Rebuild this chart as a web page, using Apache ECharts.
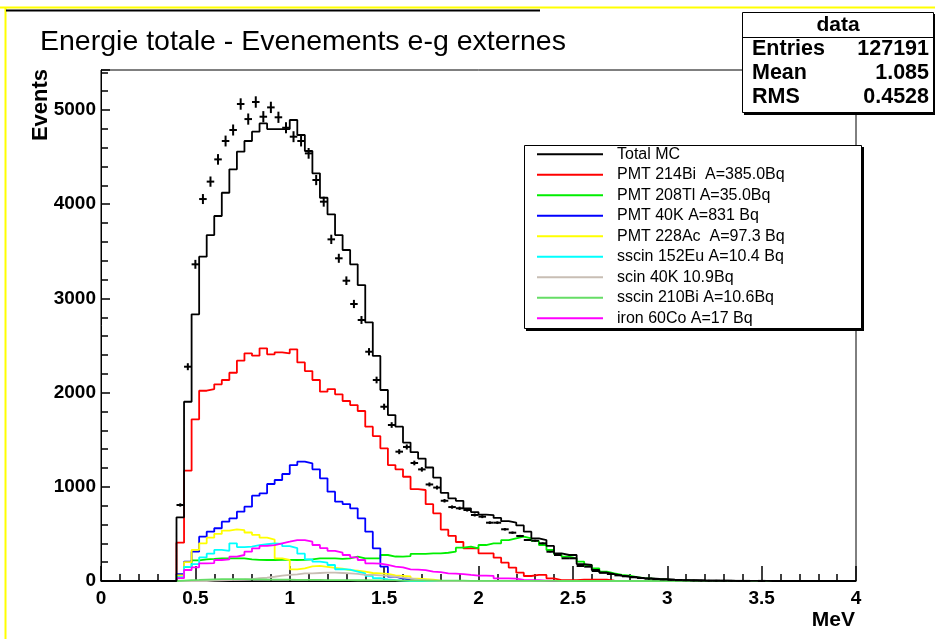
<!DOCTYPE html>
<html><head><meta charset="utf-8">
<script src="https://cdn.jsdelivr.net/npm/echarts/dist/echarts.min.js"></script>
<style>html,body{margin:0;padding:0;background:#fff}#c{width:935px;height:639px}</style>
</head><body><div id="c"></div>
<script>
// ---- histogram definition: 100 bins from 0 to 4 MeV ----
const xMin = 0, xMax = 4, nBins = 100;
const xTicks = [0, 0.5, 1, 1.5, 2, 2.5, 3, 3.5, 4];
const yTicks = [0, 1000, 2000, 3000, 4000, 5000];
const yMax = 5425;

// data (crosses), counts per bin
const dataCounts = [
 0,0,0,0,0,0,0,0,0,0,
 807,2275,3362,4055,4240,4476,4671,4788,5064,4904,
 5085,4929,5028,4923,4812,4717,4671,4540,4257,4027,
 3627,3426,3188,2941,2771,2434,2134,1850,1656,1373,
 1423,1253,1185,1025,992,852,785,772,754,701,
 683,619,619,549,513,478,435,428,400,311,
 276,241,241,159,152,106,88,74,60,50,
 40,32,25,20,16,12,9,7,5,4,
 3,3,2,2,1,1,0,1,0,0,
 0,0,0,0,0,0,0,0,0,0];

const totalMC = [
 0,0,0,0,0,0,0,0,0,0,
 676,1903,2831,3443,3673,3875,4122,4370,4558,4671,
 4770,4858,4798,4798,4798,4894,4735,4565,4328,4069,
 3893,3673,3514,3362,3142,2746,2389,2028,1762,1638,
 1470,1368,1300,1205,1098,936,878,851,772,732,
 705,700,670,635,620,590,524,453,435,372,
 294,276,276,180,170,117,88,74,58,46,
 40,28,28,22,20,15,11,10,8,6,
 5,4,3,2,2,1,1,1,0,0,
 0,0,0,0,0,0,0,0,0,0];

const pmt214Bi = [
 0,0,0,0,0,0,0,0,0,0,
 407,1171,1716,2020,2038,2088,2134,2211,2339,2417,
 2392,2470,2406,2428,2417,2460,2321,2229,2134,2010,
 2038,1982,1911,1868,1805,1638,1539,1409,1231,1186,
 1107,975,966,816,718,545,480,414,347,347,
 294,294,248,195,142,88,53,64,64,28,
 10,10,10,15,15,15,15,5,0,0,
 0,0,0,0,0,0,0,0,0,0,
 0,0,0,0,0,0,0,0,0,0,
 0,0,0,0,0,0,0,0,0,0];

const pmt208Tl = [
 0,0,0,0,0,0,0,0,0,0,
 60,150,220,230,235,241,241,241,241,230,
 225,223,223,225,225,223,225,230,241,241,
 241,235,241,258,241,241,241,276,260,258,
 265,287,287,294,294,300,311,354,364,347,
 382,400,400,435,453,471,453,425,382,329,
 283,258,241,205,170,135,99,81,64,57,
 40,30,25,20,15,10,5,3,0,0,
 0,0,0,0,0,0,0,0,0,0,
 0,0,0,0,0,0,0,0,0,0];

const pmt40K = [
 0,0,0,0,0,0,0,0,0,0,
 74,205,311,471,524,560,630,665,736,789,
 906,931,1030,1072,1136,1231,1267,1249,1186,1090,
 948,842,817,772,665,524,347,152,46,25,
 15,8,4,0,0,0,0,0,0,0,
 0,0,0,0,0,0,0,0,0,0,
 0,0,0,0,0,0,0,0,0,0,
 0,0,0,0,0,0,0,0,0,0,
 0,0,0,0,0,0,0,0,0,0,
 0,0,0,0,0,0,0,0,0,0];

const pmt228Ac = [
 0,0,0,0,0,0,0,0,0,0,
 60,200,330,400,460,500,535,549,540,515,
 490,460,440,240,223,124,135,155,160,150,
 140,130,115,110,100,85,80,75,60,55,
 50,25,20,15,5,0,0,0,0,0,
 0,0,0,0,0,0,0,0,0,0,
 0,0,0,0,0,0,0,0,0,0,
 0,0,0,0,0,0,0,0,0,0,
 0,0,0,0,0,0,0,0,0,0,
 0,0,0,0,0,0,0,0,0,0];

const sscin152Eu = [
 0,0,0,0,0,0,0,0,0,0,
 40,150,180,250,290,330,320,400,360,365,
 380,390,400,395,370,350,290,230,205,195,
 170,125,120,100,80,55,30,18,10,5,
 0,0,0,0,0,0,0,0,0,0,
 0,0,0,0,0,0,0,0,0,0,
 0,0,0,0,0,0,0,0,0,0,
 0,0,0,0,0,0,0,0,0,0,
 0,0,0,0,0,0,0,0,0,0,
 0,0,0,0,0,0,0,0,0,0];

const scin40K = [
 0,0,0,0,0,0,0,0,0,0,
 0,0,0,0,5,8,10,12,15,20,
 30,35,45,57,65,71,80,81,85,88,
 88,85,81,75,64,64,60,55,46,35,
 28,15,8,4,0,0,0,0,0,0,
 0,0,0,0,0,0,0,0,0,0,
 0,0,0,0,0,0,0,0,0,0,
 0,0,0,0,0,0,0,0,0,0,
 0,0,0,0,0,0,0,0,0,0,
 0,0,0,0,0,0,0,0,0,0];

const sscin210Bi = [
 0,0,0,0,0,0,0,0,0,0,
 5,10,12,15,18,20,20,20,20,18,
 18,16,15,15,14,13,12,12,11,10,
 10,9,9,8,8,7,7,6,6,5,
 5,5,4,4,4,3,3,3,2,2,
 2,2,2,1,1,1,1,1,1,1,
 0,0,0,0,0,0,0,0,0,0,
 0,0,0,0,0,0,0,0,0,0,
 0,0,0,0,0,0,0,0,0,0,
 0,0,0,0,0,0,0,0,0,0];

const iron60Co = [
 0,0,0,0,0,0,0,0,0,0,
 30,117,145,188,190,223,230,258,276,311,
 347,372,382,400,417,435,435,417,382,350,
 320,300,276,251,223,188,185,170,152,145,
 124,120,115,99,95,81,78,74,65,57,
 57,55,28,28,25,11,10,8,5,0,
 0,0,0,0,0,0,0,0,0,0,
 0,0,0,0,0,0,0,0,0,0,
 0,0,0,0,0,0,0,0,0,0,
 0,0,0,0,0,0,0,0,0,0];

const legendNames = ['Total MC','PMT 214Bi  A=385.0Bq','PMT 208Tl A=35.0Bq','PMT 40K A=831 Bq',
  'PMT 228Ac  A=97.3 Bq','sscin 152Eu A=10.4 Bq','scin 40K 10.9Bq','sscin 210Bi A=10.6Bq','iron 60Co A=17 Bq'];
const statsRows = [['Entries','127191'],['Mean','1.085'],['RMS','0.4528']];

// ---- build ----
const binW = (xMax - xMin) / nBins;
function histPoints(vals){
  const pts = [];
  for (let k = 0; k < vals.length; k++) pts.push([xMin + k*binW, vals[k]]);
  pts.push([xMax, vals[vals.length-1]]);
  return pts;
}
function hist(name, vals, color, z){
  return {name, type:'line', step:'end', data:histPoints(vals), showSymbol:false, symbol:'none',
    color, lineStyle:{color, width:1.8}, z:z||2, silent:true, animation:false};
}
const crossData = dataCounts.map((v,k)=>[xMin + (k+0.5)*binW, v]);

const FONT = '"Liberation Sans", Arial, Helvetica, sans-serif';
const chart = echarts.init(document.getElementById('c'), null, {renderer:'canvas'});
const option = {
  animation:false,
  backgroundColor:'#ffffff',
  grid:{left:101, right:79, top:70, bottom:58, show:true, borderColor:'#000', borderWidth:1, backgroundColor:'transparent'},
  xAxis:{type:'value', min:xMin, max:xMax, interval:0.5,
    axisLine:{show:true, lineStyle:{color:'#000', width:1}},
    axisTick:{show:true, inside:true, length:15, lineStyle:{color:'#000', width:1.5}},
    minorTick:{show:true, splitNumber:5, length:7, lineStyle:{color:'#000', width:1.5}},
    splitLine:{show:false},
    axisLabel:{margin:8, color:'#000', fontFamily:FONT, fontWeight:'bold', fontSize:19,
      formatter:v=> xTicks.includes(v) ? String(v) : ''}},
  yAxis:{type:'value', min:0, max:yMax, interval:1000,
    axisLine:{show:true, lineStyle:{color:'#000', width:1}},
    axisTick:{show:true, inside:true, length:9, lineStyle:{color:'#000', width:1.5}},
    minorTick:{show:true, splitNumber:5, length:7, lineStyle:{color:'#000', width:1.5}},
    splitLine:{show:false},
    axisLabel:{margin:5, color:'#000', fontFamily:FONT, fontWeight:'bold', fontSize:19, showMaxLabel:false,
      formatter:v=> yTicks.includes(v) ? String(v) : ''}},
  legend:{orient:'vertical', left:537, top:144, padding:0, itemGap:0, itemWidth:66, itemHeight:2, icon:'rect',
    z:120, selectedMode:false, data:legendNames,
    textStyle:{fontFamily:FONT, fontSize:16, color:'#000', lineHeight:20.5, padding:[0,0,0,9]}},
  series:[
    hist(legendNames[0], totalMC, '#000000', 3),
    hist(legendNames[1], pmt214Bi, '#ff0000'),
    hist(legendNames[2], pmt208Tl, '#00ee00'),
    hist(legendNames[3], pmt40K, '#0000ff'),
    hist(legendNames[4], pmt228Ac, '#ffff00'),
    hist(legendNames[5], sscin152Eu, '#00ffff'),
    hist(legendNames[6], scin40K, '#c8beb4'),
    hist(legendNames[8], iron60Co, '#ff00ff'),
    hist(legendNames[7], sscin210Bi, '#66dd66'),
    {name:'data', type:'custom', data:crossData, z:5, silent:true, animation:false,
      renderItem:(params, api)=>{
        const x = api.value(0), v = api.value(1);
        if (!(v > 0)) return null;
        const e = Math.sqrt(v);
        const a = api.coord([x - binW/2, v]), b = api.coord([x + binW/2, v]);
        const c = api.coord([x, v - e]), d = api.coord([x, v + e]);
        const st = {stroke:'#000', lineWidth:2};
        return {type:'group', children:[
          {type:'line', shape:{x1:a[0], y1:a[1], x2:b[0], y2:b[1]}, style:st},
          {type:'line', shape:{x1:c[0], y1:c[1]-1, x2:d[0], y2:d[1]+1}, style:st}
        ]};
      }}
  ],
  graphic:[
    // canvas border (yellow) and title box top line
    {type:'line', z:200, shape:{x1:0, y1:7.5, x2:935, y2:7.5}, style:{stroke:'#ffff00', lineWidth:2}},
    {type:'line', z:200, shape:{x1:5.5, y1:7, x2:5.5, y2:639}, style:{stroke:'#ffff00', lineWidth:2}},
    {type:'line', z:200, shape:{x1:6, y1:10.5, x2:540, y2:10.5}, style:{stroke:'#000', lineWidth:2}},
    {type:'text', z:200, style:{text:'Energie totale - Evenements e-g externes', x:40, y:42,
      font:'28.5px ' + FONT, fill:'#000', align:'left', verticalAlign:'middle'}},
    // axis titles
    {type:'text', z:200, x:41, y:105, rotation:Math.PI/2, style:{text:'Events', x:0, y:0,
      font:'bold 22px ' + FONT, fill:'#000', align:'center', verticalAlign:'middle'}},
    {type:'text', z:200, style:{text:'MeV', x:855, y:620, font:'bold 21px ' + FONT, fill:'#000', align:'right', verticalAlign:'middle'}},
    // stats box
    {type:'rect', z:100, shape:{x:744, y:14, width:192, height:101}, style:{fill:'#000'}},
    {type:'rect', z:101, shape:{x:742.5, y:12.5, width:191, height:100}, style:{fill:'#fff', stroke:'#000', lineWidth:1}},
    {type:'line', z:102, shape:{x1:742.5, y1:37.5, x2:933.5, y2:37.5}, style:{stroke:'#000', lineWidth:1}},
    {type:'text', z:102, style:{text:'data', x:838, y:25, font:'bold 21px ' + FONT, fill:'#000', align:'center', verticalAlign:'middle'}},
    ...statsRows.flatMap((r,i)=>[
      {type:'text', z:102, style:{text:r[0], x:752, y:49 + i*24, font:'bold 21.5px ' + FONT, fill:'#000', align:'left', verticalAlign:'middle'}},
      {type:'text', z:102, style:{text:r[1], x:929, y:49 + i*24, font:'bold 21.5px ' + FONT, fill:'#000', align:'right', verticalAlign:'middle'}}
    ]),
    // legend box
    {type:'rect', z:100, shape:{x:526, y:147, width:338, height:184}, style:{fill:'#000'}},
    {type:'rect', z:101, shape:{x:524.5, y:145.5, width:337, height:183}, style:{fill:'#fff', stroke:'#000', lineWidth:1}}
  ]
};
chart.setOption(option);
</script></body></html>
